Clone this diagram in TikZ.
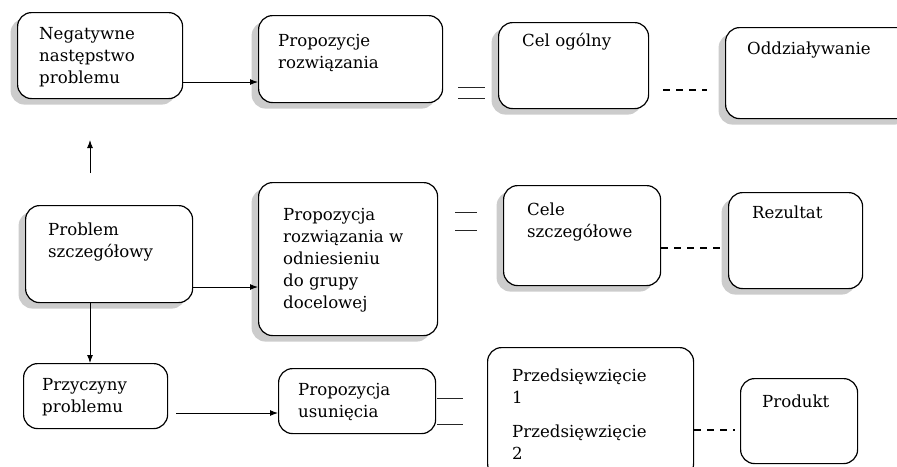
\documentclass[tikz,border=0pt]{standalone}
\usepackage{fontspec}
\setmainfont{DejaVu Serif}
\usetikzlibrary{arrows.meta,shadows,calc}
\begin{document}
\begin{tikzpicture}[x=1pt,y=-1pt,
  box/.style={draw=black, fill=white, line width=1.2pt, rounded corners=14pt, anchor=north west, inner sep=0pt},
  shd/.style={drop shadow={shadow xshift=-7pt, shadow yshift=-6pt, fill=black!20, opacity=1}},
  txt/.style={anchor=north west, inner sep=0pt, align=left, font=\fontsize{16.6}{22}\selectfont, yshift=15.4pt},
  arr/.style={line width=1pt, -{Latex[length=8pt,width=6pt]}},
  dsh/.style={line width=1.3pt, dash pattern=on 7pt off 6pt},
  pair/.style={line width=0.8pt, black!85}]
\useasboundingbox (0,0) rectangle (897,466);
\clip (0,0) rectangle (897,466);

% boxes
\node[box,shd,minimum width=165pt,minimum height=86pt] (b1) at (17,12) {};
\node[box,shd,minimum width=184pt,minimum height=87pt] (b2) at (258,15) {};
\node[box,shd,minimum width=150pt,minimum height=86pt] (b3) at (498,22) {};
\node[box,shd,minimum width=190pt,minimum height=91pt] (b4) at (725,27) {};
\node[box,shd,minimum width=167pt,minimum height=97pt] (b5) at (25,205) {};
\node[box,shd,minimum width=179pt,minimum height=153pt] (b6) at (258,182) {};
\node[box,shd,minimum width=157pt,minimum height=100pt] (b7) at (503,185) {};
\node[box,shd,minimum width=134pt,minimum height=96pt] (b8) at (728,192) {};
\node[box,minimum width=144pt,minimum height=65pt] (b9) at (23,363) {};
\node[box,minimum width=157pt,minimum height=65pt] (b10) at (278,368) {};
\node[box,minimum width=206pt,minimum height=130pt] (b11) at (487,347) {};
\node[box,minimum width=117pt,minimum height=85pt] (b12) at (740,378) {};

% texts
\node[txt] (t1) at (39,39) {\strut Negatywne\\następstwo\\problemu};
\node[txt] (t2) at (278,46) {\strut Propozycje\\rozwiązania};
\node[txt] (t3) at (522,46) {\strut Cel ogólny};
\node[txt] (t4) at (747,54) {\strut Oddziaływanie};
\node[txt] (t5) at (48,235) {\strut Problem\\szczegółowy};
\node[txt] (t6) at (283,220) {\strut Propozycja\\rozwiązania w\\odniesieniu\\do grupy\\docelowej};
\node[txt] (t7) at (527,215) {\strut Cele\\szczegółowe};
\node[txt] (t8) at (752,218) {\strut Rezultat};
\node[txt] (t9) at (42,390) {\strut Przyczyny\\problemu};
\node[txt] (t10) at (298,395) {\strut Propozycja\\usunięcia};
\node[txt] (t11) at (512,381) {\strut Przedsięwzięcie\\1\\[12pt]Przedsięwzięcie\\2};
\node[txt] (t12) at (762,407) {\strut Produkt};

% helper coordinates
\coordinate (y82) at (0,82);
\coordinate (y287) at (0,287);
\coordinate (y413) at (0,413);
\coordinate (y90) at (0,90);
\coordinate (y248) at (0,248);
\coordinate (y430) at (0,430);
\coordinate (x90) at (90,0);
\coordinate (u1) at (90,173);
\coordinate (u2) at (90,140);

% solid arrows
\draw[arr] (b1.east |- y82) -- (b2.west |- y82);
\draw[arr] (b5.east |- y287) -- (b6.west |- y287);
\draw[arr] ($(b9.east |- y413)+(8,0)$) -- (b10.west |- y413);
\draw[arr] (u1) -- (u2);
\draw[arr] (b5.south -| x90) -- (b9.north -| x90);

% dashed connectors
\draw[dsh] ($(b3.east |- y90)+(14,0)$) -- ($(b4.west |- y90)+(-18,0)$);
\draw[dsh] (b7.east |- y248) -- ($(b8.west |- y248)+(-8,0)$);
\draw[dsh] (b11.east |- y430) -- ($(b12.west |- y430)+(-5,0)$);

% double short lines
\coordinate (p1a) at (458,87);  \coordinate (p1b) at (485,87);
\coordinate (p1c) at (458,98);  \coordinate (p1d) at (485,98);
\coordinate (p2a) at (455,212); \coordinate (p2b) at (477,212);
\coordinate (p2c) at (455,230); \coordinate (p2d) at (477,230);
\coordinate (p3a) at (437,398); \coordinate (p3b) at (463,398);
\coordinate (p3c) at (437,424); \coordinate (p3d) at (463,424);
\draw[pair] (p1a) -- (p1b);
\draw[pair] (p1c) -- (p1d);
\draw[pair] (p2a) -- (p2b);
\draw[pair] (p2c) -- (p2d);
\draw[pair] (p3a) -- (p3b);
\draw[pair] (p3c) -- (p3d);
\end{tikzpicture}
\end{document}
